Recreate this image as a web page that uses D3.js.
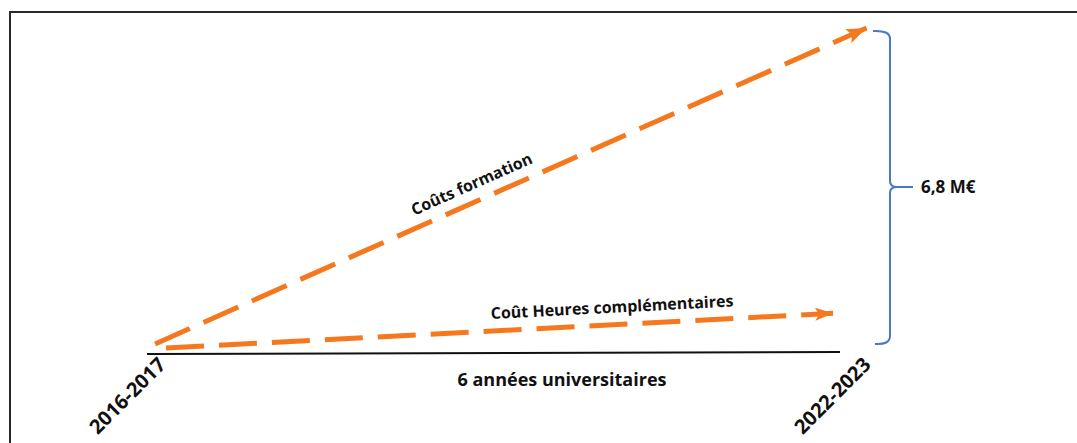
<!DOCTYPE html>
<html>
<head>
<meta charset="utf-8">
<script src="https://cdn.jsdelivr.net/npm/d3@7"></script>
<style>
  body { margin: 0; background: #fff; }
  svg text { font-family: "Open Sans", Lato, sans-serif; font-weight: bold; fill: #111; }
</style>
</head>
<body>
<div id="vis"></div>
<script>
// data (years since 2016-2017, millions of euros)
var years = ["2016-2017", "2022-2023"];
var yearPos = [0, 6];
var seriesNames = ["Coûts formation", "Coût Heures complémentaires"];
var formationX = [0.07, 6.23];
var formationY = [0.21, 6.8];
var heuresX = [0.165, 5.94];
var heuresY = [0.125, 0.85];
var totalLabel = "6,8 M€";
var axisLabel = "6 années universitaires";

var width = 1077, height = 443;
var orange = "#f5781e", blue = "#4a78c8";

var x = d3.scaleLinear().domain([0, 6]).range([147, 840]);
var y = d3.scaleLinear().domain([0, 6.8]).range([354, 28]);

var svg = d3.select("#vis").append("svg")
  .attr("width", width)
  .attr("height", height);

// frame (right and bottom edges fall outside the picture)
svg.append("rect")
  .attr("x", 10).attr("y", 12)
  .attr("width", width + 20).attr("height", height + 20)
  .attr("fill", "none")
  .attr("stroke", "#2a2a2a")
  .attr("stroke-width", 2);

// arrow heads
var defs = svg.append("defs");
function addArrow(id, len, wid) {
  defs.append("marker")
    .attr("id", id)
    .attr("markerUnits", "userSpaceOnUse")
    .attr("viewBox", "0 0 " + len + " " + wid)
    .attr("refX", len).attr("refY", wid / 2)
    .attr("markerWidth", len).attr("markerHeight", wid)
    .attr("orient", "auto")
    .append("path")
    .attr("d", "M0,0L" + len + "," + (wid / 2) + "L0," + wid + "L4," + (wid / 2) + "Z")
    .attr("fill", orange);
}
addArrow("arrowBig", 20, 15);
addArrow("arrowSmall", 18, 13);

// time axis
svg.append("line")
  .attr("x1", x(yearPos[0])).attr("x2", x(yearPos[1]))
  .attr("y1", y(0)).attr("y2", y(0) - 2)
  .attr("stroke", "#111")
  .attr("stroke-width", 2);

var line = d3.line()
  .x(function (d) { return x(d[0]); })
  .y(function (d) { return y(d[1]); });

var series = [
  { name: seriesNames[0], pts: d3.zip(formationX, formationY), arrow: "arrowBig" },
  { name: seriesNames[1], pts: d3.zip(heuresX, heuresY), arrow: "arrowSmall" }
];

svg.selectAll(".serie")
  .data(series)
  .enter().append("path")
  .attr("class", "serie")
  .attr("d", function (d) { return line(d.pts); })
  .attr("fill", "none")
  .attr("stroke", orange)
  .attr("stroke-width", 5)
  .attr("stroke-dasharray", "38,15")
  .attr("marker-end", function (d) { return "url(#" + d.arrow + ")"; });

// series labels, placed along their line
var labelPos = [
  { t: 0.455, off: -12 },
  { t: 0.67, off: -12 }
];
series.forEach(function (s, i) {
  var p0 = s.pts[0], p1 = s.pts[1];
  var x0 = x(p0[0]), y0 = y(p0[1]), x1 = x(p1[0]), y1 = y(p1[1]);
  var ang = Math.atan2(y1 - y0, x1 - x0);
  var cx = x0 + (x1 - x0) * labelPos[i].t + Math.sin(ang) * -labelPos[i].off;
  var cy = y0 + (y1 - y0) * labelPos[i].t + Math.cos(ang) * labelPos[i].off;
  svg.append("text")
    .attr("transform", "translate(" + cx + "," + cy + ") rotate(" + (ang * 180 / Math.PI) + ")")
    .attr("text-anchor", "middle")
    .style("font-size", "16px")
    .text(s.name);
});

// year labels, rotated under each end of the axis
svg.selectAll(".year")
  .data(years)
  .enter().append("text")
  .attr("class", "year")
  .attr("text-anchor", "end")
  .attr("transform", function (d, i) {
    return "translate(" + (x(yearPos[i]) + [20, 32][i]) + "," + (y(0) + 12) + ") rotate(-45)";
  })
  .style("font-size", "20px")
  .text(function (d) { return d; });

svg.append("text")
  .attr("x", 562).attr("y", 386)
  .attr("text-anchor", "middle")
  .style("font-size", "18px")
  .text(axisLabel);

// brace spanning the total cost
var bx = 890, bTop = y(formationY[1]) + 3, bBot = y(0) - 10, bMid = 187;
var b = d3.path();
b.moveTo(bx - 17, bTop);
b.quadraticCurveTo(bx, bTop - 1, bx, bTop + 8);
b.lineTo(bx, bMid - 6);
b.quadraticCurveTo(bx, bMid, bx + 7, bMid);
b.lineTo(bx + 23, bMid);
b.moveTo(bx + 7, bMid);
b.quadraticCurveTo(bx, bMid, bx, bMid + 6);
b.lineTo(bx, bBot - 8);
b.quadraticCurveTo(bx, bBot + 1, bx - 15, bBot);
svg.append("path")
  .attr("d", b.toString())
  .attr("fill", "none")
  .attr("stroke", blue)
  .attr("stroke-width", 2);

svg.append("text")
  .attr("x", 921).attr("y", 193)
  .style("font-size", "17px")
  .text(totalLabel);
</script>
</body>
</html>
